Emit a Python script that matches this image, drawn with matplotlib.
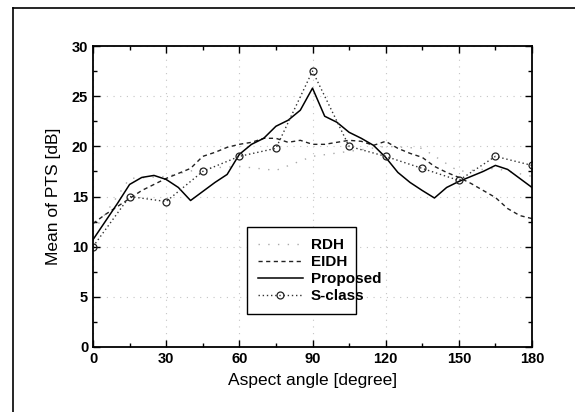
import matplotlib.pyplot as plt
import numpy as np
from matplotlib.ticker import MultipleLocator
from matplotlib.lines import Line2D

plt.rcParams['font.family'] = ['Liberation Sans', 'DejaVu Sans']

# data
ang5 = np.arange(0, 181, 5)
ang15 = np.arange(0, 181, 15)

proposed = [10.7, 12.5, 14.3, 16.2, 16.9, 17.1, 16.7, 15.9, 14.6, 15.5, 16.4, 17.2,
            19.2, 20.2, 20.8, 22.0, 22.6, 23.6, 25.8, 23.0, 22.4, 21.4, 20.8, 20.1,
            18.9, 17.4, 16.4, 15.6, 14.85, 15.9, 16.5, 17.0, 17.5, 18.1, 17.7, 16.8, 15.9]
eidh = [12.3, 13.2, 14.0, 14.8, 15.6, 16.2, 16.8, 17.3, 17.8, 19.0, 19.4, 19.9,
        20.2, 20.4, 20.8, 20.8, 20.4, 20.6, 20.2, 20.2, 20.4, 20.6, 20.5, 20.1,
        20.5, 19.8, 19.3, 18.9, 18.0, 17.4, 16.9, 16.3, 15.6, 14.9, 13.8, 13.1, 12.8]
sclass = [10.0, 15.0, 14.5, 17.5, 19.0, 19.8, 27.5, 20.0, 19.0, 17.8, 16.6, 19.0, 18.1]
rdh = [11.5, 16.8, 17.0, 17.8, 18.0, 17.6, 19.0, 19.5, 20.0, 19.8, 17.5, 17.8, 17.0]

fig = plt.figure(figsize=(5.75, 4.12), dpi=100)
ax = fig.add_axes([93 / 575, 1 - 347 / 412, 439 / 575, 301 / 412])

# figure frame (top and left edges only visible)
fig.add_artist(Line2D([13 / 575, 13 / 575], [0, 1 - 8 / 412], color='k', lw=1.2))
fig.add_artist(Line2D([13 / 575, 1], [1 - 8 / 412, 1 - 8 / 412], color='k', lw=1.2))

ax.grid(True, color='#c4c4c4', linestyle=(0, (1, 5)), lw=0.8)

l1, = ax.plot(ang15, rdh, color='#aaaaaa', linestyle=(0, (1, 6)), lw=1.0, label='RDH')
l2, = ax.plot(ang5, eidh, color='#222222', linestyle=(0, (3, 2.5)), lw=1.0, label='EIDH')
l3, = ax.plot(ang5, proposed, color='k', linestyle='-', lw=1.1, label='Proposed')
l4, = ax.plot(ang15, sclass, color='#333333', linestyle=(0, (1, 2)), lw=1.0,
              marker='o', markersize=5, markerfacecolor='none', markeredgecolor='#222222',
              markeredgewidth=0.9, label='S-class')

ax.set_xlim(0, 180)
ax.set_ylim(0, 30)
ax.xaxis.set_major_locator(MultipleLocator(30))
ax.xaxis.set_minor_locator(MultipleLocator(15))
ax.yaxis.set_major_locator(MultipleLocator(5))
ax.yaxis.set_minor_locator(MultipleLocator(2.5))
ax.tick_params(which='both', direction='in', top=True, right=True, labelsize=10.5, width=1.0)
ax.tick_params(which='major', length=5)
ax.tick_params(which='minor', length=3)
for lab in ax.get_xticklabels() + ax.get_yticklabels():
    lab.set_fontweight('bold')
for sp in ax.spines.values():
    sp.set_linewidth(1.3)

ax.set_xlabel('Aspect angle [degree]', fontsize=12.5, labelpad=5)
ax.set_ylabel('Mean of PTS [dB]', fontsize=12.5, labelpad=8)

leg = ax.legend(handles=[l1, l2, l3, l4], loc='lower left',
                bbox_to_anchor=(0.333, 0.085, 0.284, 0.265), mode='expand',
                prop={'weight': 'bold', 'size': 11}, handlelength=3.0,
                handletextpad=0.5, fancybox=False, framealpha=1, edgecolor='k',
                borderpad=0.7, labelspacing=0.2)
leg.get_frame().set_linewidth(1.0)

fig.savefig('out.png', dpi=100)
